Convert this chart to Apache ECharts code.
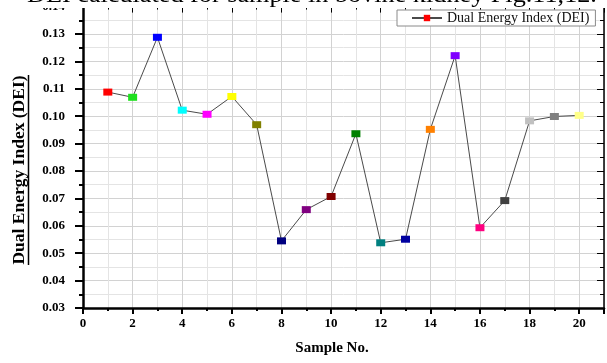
<!DOCTYPE html>
<html>
<head>
<meta charset="utf-8">
<script src="https://cdn.jsdelivr.net/npm/echarts@6/dist/echarts.min.js"></script>
<style>
html,body{margin:0;padding:0;background:#fff;}
#chart{width:607px;height:363px;}
</style>
</head>
<body>
<div id="chart"></div>
<script>
const samples = [1,2,3,4,5,6,7,8,9,10,11,12,13,14,15,16,17,18,19,20];
const dei = [0.1088,0.1069,0.1288,0.1022,0.1007,0.1072,0.0969,0.0545,0.0659,0.0707,
             0.0936,0.0538,0.0551,0.0952,0.1221,0.0593,0.0692,0.0983,0.0999,0.1003];
const markerColors = ['#ff0000','#1ee01e','#0000ff','#00ffff','#ff00ff','#ffff00','#808000','#000080','#800080','#800000',
                      '#008000','#008080','#0000a0','#ff8000','#8000ff','#ff0080','#404040','#c0c0c0','#808080','#ffff88'];
const seriesName = 'Dual Energy Index (DEI)';
const xTitle = 'Sample No.';
const yTitle = 'Dual Energy Index (DEI)';
const caption = 'DEI calculated for sample in bovine kidney Fig.11,12.';

const serif = '"Liberation Serif", "Times New Roman", serif';
const chart = echarts.init(document.getElementById('chart'), null, {renderer:'canvas'});

const gridLine = {show:true, lineStyle:{color:'#d2d2d2', width:1}};
const minorGridLine = {show:true, lineStyle:{color:'#e4e4e4', width:1}};

const option = {
  animation:false,
  backgroundColor:'#ffffff',
  grid:{left:83, right:0, top:6.6, bottom:55},
  legend:{
    data:[seriesName], left:397, top:10,
    padding:[1,6,1,14], itemWidth:30, itemHeight:8, itemGap:5,
    borderColor:'#8a8a8a', borderWidth:1, borderRadius:0, backgroundColor:'#fff',
    textStyle:{fontFamily:serif, fontSize:14, color:'#111'}
  },
  xAxis:[{
    type:'value', min:0, max:21, interval:2, position:'bottom',
    axisLine:{show:true, onZero:false, lineStyle:{color:'#000', width:2.5}},
    axisTick:{show:true, inside:false, length:6, lineStyle:{color:'#000', width:2}},
    minorTick:{show:true, splitNumber:2, length:3, lineStyle:{color:'#000', width:2}},
    axisLabel:{fontFamily:serif, fontWeight:'bold', fontSize:13, color:'#000', margin:9,
               formatter:v => (v > 20 ? '' : String(v))},
    splitLine:gridLine, minorSplitLine:minorGridLine
  },{
    type:'value', min:0, max:21, interval:2, position:'top',
    axisLine:{show:true, onZero:false, lineStyle:{color:'#000', width:1.5}},
    axisTick:{show:true, inside:true, length:6, lineStyle:{color:'#000', width:1}},
    minorTick:{show:true, splitNumber:2, length:3, lineStyle:{color:'#000', width:1}},
    axisLabel:{show:false}, splitLine:{show:false}
  }],
  yAxis:[{
    type:'value', min:0.03, max:0.14, interval:0.01, position:'left',
    axisLine:{show:true, onZero:false, lineStyle:{color:'#000', width:2.5}},
    axisTick:{show:true, inside:false, length:8, lineStyle:{color:'#000', width:2}},
    minorTick:{show:true, splitNumber:2, length:4, lineStyle:{color:'#000', width:2}},
    axisLabel:{fontFamily:serif, fontWeight:'bold', fontSize:13, color:'#000', margin:18,
               formatter:v => v.toFixed(2)},
    splitLine:gridLine, minorSplitLine:minorGridLine
  },{
    type:'value', min:0.03, max:0.14, interval:0.01, position:'right',
    axisLine:{show:true, onZero:false, lineStyle:{color:'#000', width:1.5}},
    axisTick:{show:true, inside:true, length:7, lineStyle:{color:'#000', width:1}},
    minorTick:{show:true, splitNumber:2, length:4, lineStyle:{color:'#000', width:1}},
    axisLabel:{show:false}, splitLine:{show:false}
  }],
  series:[{
    name:seriesName, type:'line', xAxisIndex:0, yAxisIndex:0,
    symbol:'rect', symbolSize:[9,7],
    lineStyle:{color:'#4a4a4a', width:1},
    itemStyle:{color:'#ff0000'},
    data:samples.map((s,i)=>({value:[s, dei[i]], itemStyle:{color:markerColors[i]}})),
    z:3
  }],
  graphic:[
    {type:'rect', z:100, left:0, top:0, shape:{width:607, height:8}, style:{fill:'#fff'}},
    {type:'text', z:101, x:27, y:-16, scaleX:1.14,
     style:{text:caption, font:'normal 23px ' + serif, fill:'#000', textAlign:'left', textVerticalAlign:'top'}},
    {type:'text', z:101, x:19, y:170, rotation:Math.PI/2,
     style:{text:yTitle, font:'bold 17.5px ' + serif, fill:'#000', textAlign:'center', textVerticalAlign:'middle'}},
    {type:'line', z:101, shape:{x1:28.5, y1:75, x2:28.5, y2:265}, style:{stroke:'#000', lineWidth:1.5}},
    {type:'text', z:101, x:332, y:348,
     style:{text:xTitle, font:'bold 15px ' + serif, fill:'#000', textAlign:'center', textVerticalAlign:'middle'}}
  ]
};
chart.setOption(option);
</script>
</body>
</html>
